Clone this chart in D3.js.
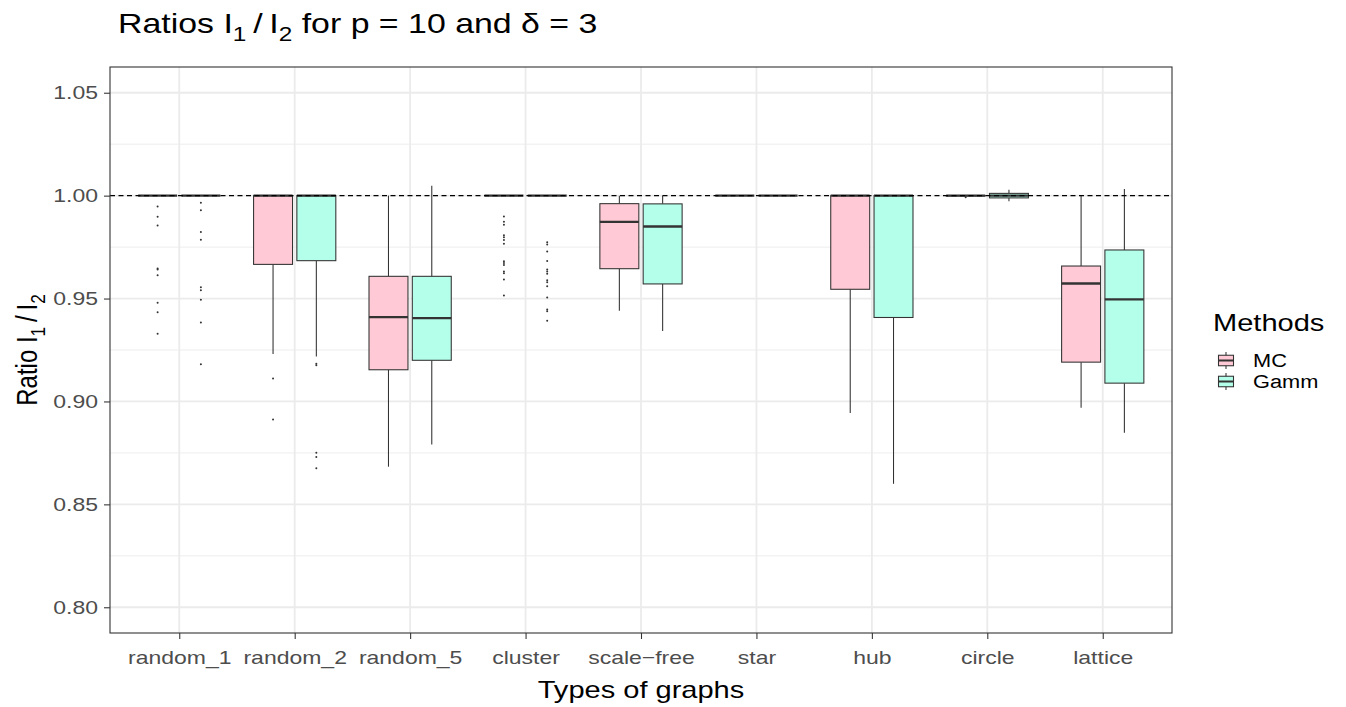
<!DOCTYPE html>
<html><head><meta charset="utf-8">
<script src="https://cdn.jsdelivr.net/npm/d3@7"></script>
<style>
body{margin:0;background:#fff}
text{font-family:"Liberation Sans",Arial,Helvetica,sans-serif}
</style>
</head><body>
<svg id="chart" width="1346" height="707"></svg>
<script>
// ---------------- data ----------------
const categories = ["random_1","random_2","random_5","cluster","scale\u2212free","star","hub","circle","lattice"];
const methods = ["MC","Gamm"];
const methodColors = ["#FFCAD5","#B3FFEA"];
const yTicks = [0.80,0.85,0.90,0.95,1.00,1.05];
const yMinor = [0.825,0.875,0.925,0.975,1.025];
// [lower whisker, q1, median, q3, upper whisker]
const mcStats = [
  [1,1,1,1,1],
  [0.9230,0.9666,1.0,1.0,1.0],
  [0.8683,0.9154,0.9410,0.9608,1.0],
  [1,1,1,1,1],
  [0.9441,0.9645,0.9873,0.9961,1.0],
  [1,1,1,1,1],
  [0.8944,0.9545,1.0,1.0,1.0],
  [0.9997,0.9999,1.0,1.0,1.0],
  [0.8969,0.9191,0.9573,0.9658,1.0]
];
const gammStats = [
  [1,1,1,1,1],
  [0.9218,0.9684,1.0,1.0,1.0],
  [0.8791,0.9200,0.9405,0.9608,1.0048],
  [1,1,1,1,1],
  [0.9342,0.9571,0.9850,0.9960,1.0],
  [1,1,1,1,1],
  [0.8600,0.9408,1.0,1.0,1.0],
  [0.9973,0.9989,1.0,1.0011,1.0029],
  [0.8848,0.9089,0.9496,0.9736,1.0032]
];
const mcOutliers = [
  [0.9947,0.9897,0.9855,0.9646,0.9641,0.9613,0.9479,0.9433,0.9329],
  [0.9112,0.8912],
  [],
  [0.9899,0.9873,0.9858,0.9807,0.9798,0.9784,0.9766,0.9681,0.9673,0.9663,0.9631,0.9623,0.9592,0.9515],
  [],
  [],
  [],
  [0.9992],
  []
];
const gammOutliers = [
  [0.9965,0.9929,0.9823,0.9786,0.9555,0.9540,0.9494,0.9384,0.9181],
  [0.9183,0.9176,0.8751,0.8730,0.8675],
  [],
  [0.9773,0.9762,0.9729,0.9682,0.9641,0.9632,0.9621,0.9589,0.9579,0.9560,0.9505,0.9447,0.9438,0.9392],
  [],
  [],
  [],
  [],
  []
];
const refLine = 1.0;

// ---------------- layout ----------------
const L = 110, R = 1172, T = 67, B = 633;
const SX = 1.21; // horizontal text stretch
const svg = d3.select("#chart");
const x = d3.scalePoint().domain(categories).range([L, R]).padding(0.6);
const y = d3.scaleLinear().domain([0.7875, 1.0625]).range([B, T]);
const step = x.step();
const half = step * 0.375 * 0.9 / 2;
const offs = [-step * 0.1875, step * 0.1875];

const dark = "#333333";

// grid
const grid = svg.append("g");
grid.selectAll("line.minor").data(yMinor).join("line")
  .attr("x1", L).attr("x2", R).attr("y1", d => y(d)).attr("y2", d => y(d))
  .attr("stroke", "#EBEBEB").attr("stroke-width", 0.9);
grid.selectAll("line.majy").data(yTicks).join("line")
  .attr("x1", L).attr("x2", R).attr("y1", d => y(d)).attr("y2", d => y(d))
  .attr("stroke", "#EBEBEB").attr("stroke-width", 1.8);
grid.selectAll("line.majx").data(categories).join("line")
  .attr("y1", T).attr("y2", B).attr("x1", d => x(d)).attr("x2", d => x(d))
  .attr("stroke", "#EBEBEB").attr("stroke-width", 1.8);

// boxes
const allStats = [mcStats, gammStats];
const allOut = [mcOutliers, gammOutliers];
const boxes = svg.append("g");
categories.forEach((cat, i) => {
  [0, 1].forEach(j => {
    const s = allStats[j][i];
    const cx = x(cat) + offs[j];
    const g = boxes.append("g");
    g.append("line").attr("x1", cx).attr("x2", cx).attr("y1", y(s[3])).attr("y2", y(s[4]))
      .attr("stroke", dark).attr("stroke-width", 1.07);
    g.append("line").attr("x1", cx).attr("x2", cx).attr("y1", y(s[1])).attr("y2", y(s[0]))
      .attr("stroke", dark).attr("stroke-width", 1.07);
    g.append("rect").attr("x", cx - half).attr("width", 2 * half)
      .attr("y", y(s[3])).attr("height", Math.max(0, y(s[1]) - y(s[3])))
      .attr("fill", methodColors[j]).attr("stroke", dark).attr("stroke-width", 1.07);
    g.append("line").attr("x1", cx - half).attr("x2", cx + half).attr("y1", y(s[2])).attr("y2", y(s[2]))
      .attr("stroke", dark).attr("stroke-width", 2.3);
    g.selectAll("circle").data(allOut[j][i]).join("circle")
      .attr("cx", cx).attr("cy", d => y(d)).attr("r", 1.0).attr("fill", dark);
  });
});

// reference line
svg.append("line").attr("x1", L).attr("x2", R).attr("y1", y(refLine)).attr("y2", y(refLine))
  .attr("stroke", "#000").attr("stroke-width", 1.07).attr("stroke-dasharray", "5,3.5");

// panel border
svg.append("rect").attr("x", L).attr("y", T).attr("width", R - L).attr("height", B - T)
  .attr("fill", "none").attr("stroke", dark).attr("stroke-width", 1.1);

// axes
const yAxis = svg.append("g").attr("transform", `translate(${L},0)`)
  .call(d3.axisLeft(y).tickValues(yTicks).tickSize(6).tickPadding(6).tickFormat(d3.format(".2f")));
const xAxis = svg.append("g").attr("transform", `translate(0,${B})`)
  .call(d3.axisBottom(x).tickSize(6).tickPadding(12));
[yAxis, xAxis].forEach(a => {
  a.select(".domain").remove();
  a.selectAll(".tick line").attr("stroke", dark).attr("stroke-width", 1.07);
  a.selectAll(".tick text").attr("fill", "#4D4D4D").attr("font-size", 19)
    .style("font-family", '"Liberation Sans",Arial,sans-serif');
});
yAxis.selectAll(".tick text").attr("text-anchor", "end")
  .attr("transform", function(){ const xx = +d3.select(this).attr("x"); return `translate(${xx},0) scale(${SX},1) translate(${-xx},0)`; });
xAxis.selectAll(".tick text").attr("transform", `scale(${SX},1)`);

// text with subscripts
function subText(sel, parts, size) {
  let pending = 0;
  parts.forEach(p => {
    const ts = sel.append("tspan");
    if (p.sub) {
      ts.attr("font-size", size * 0.72).attr("dy", size * 0.28 - pending);
      pending = size * 0.28;
    } else {
      ts.attr("font-size", size).attr("dy", -pending);
      pending = 0;
    }
    ts.text(p.t);
  });
}
const title = svg.append("text").attr("transform", `translate(118,33) scale(${SX},1)`).attr("fill", "#000");
subText(title, [{t:"Ratios I"},{t:"1",sub:true},{t:"\u2009/\u2009I"},{t:"2",sub:true},{t:" for p = 10 and \u03B4 = 3"}], 28);

// axis titles
svg.append("text").attr("transform", `translate(${(L+R)/2},698) scale(${SX},1)`)
  .attr("text-anchor", "middle").attr("font-size", 24).attr("fill", "#000").text("Types of graphs");
const yt = svg.append("text").attr("transform", `translate(37,${(T+B)/2}) scale(${SX},1) rotate(-90)`)
  .attr("text-anchor", "middle").attr("fill", "#000");
subText(yt, [{t:"Ratio I"},{t:"1",sub:true},{t:"\u2009/\u2009I"},{t:"2",sub:true}], 24);

// legend
const lg = svg.append("g").attr("transform", "translate(1213,0)");
lg.append("text").attr("transform", `translate(0,331) scale(${SX},1)`).attr("font-size", 24).attr("fill", "#000").text("Methods");
methods.forEach((m, j) => {
  const ky = 350 + j * 21, kx = 3, kw = 20, kh = 21;
  const g = lg.append("g").attr("transform", `translate(${kx},${ky})`);
  g.append("line").attr("x1", kw/2).attr("x2", kw/2).attr("y1", kh*0.1).attr("y2", kh*0.9)
    .attr("stroke", dark).attr("stroke-width", 1.07);
  g.append("rect").attr("x", kw*0.125).attr("width", kw*0.75).attr("y", kh*0.25).attr("height", kh*0.5)
    .attr("fill", methodColors[j]).attr("stroke", dark).attr("stroke-width", 1.07);
  g.append("line").attr("x1", kw*0.125).attr("x2", kw*0.875).attr("y1", kh/2).attr("y2", kh/2)
    .attr("stroke", dark).attr("stroke-width", 2);
  lg.append("text").attr("transform", `translate(40,${ky + kh/2 + 6}) scale(${SX},1)`)
    .attr("font-size", 18).attr("fill", "#000").text(m);
});
</script>
</body></html>
